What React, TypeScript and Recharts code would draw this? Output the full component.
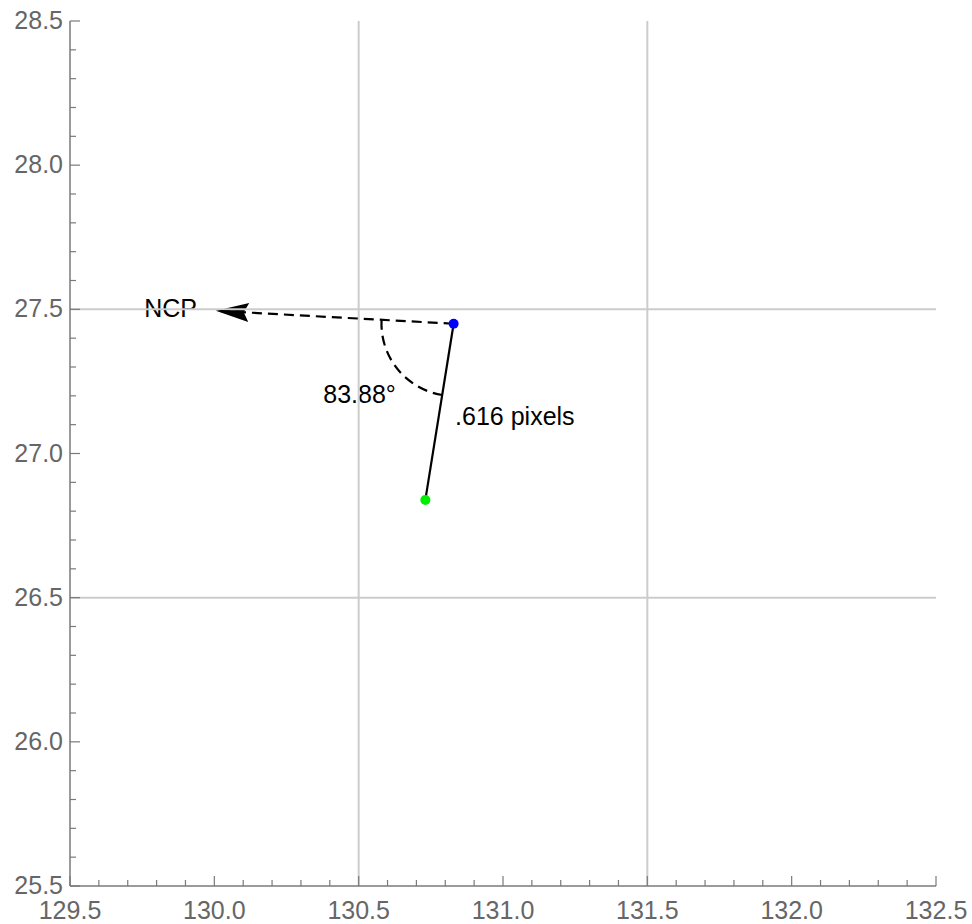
import React from 'react';
import * as R from 'recharts';
import { ComposedChart, XAxis, YAxis, Scatter, ReferenceLine } from 'recharts';

// axis ranges and ticks (every 0.1, labels every 0.5)
const xDomain = [129.5, 132.5];
const yDomain = [25.5, 28.5];
const xTicks = [
    129.5, 129.6, 129.7, 129.8, 129.9, 130.0, 130.1, 130.2, 130.3, 130.4, 130.5, 130.6, 130.7, 130.8, 130.9, 131.0,
    131.1, 131.2, 131.3, 131.4, 131.5, 131.6, 131.7, 131.8, 131.9, 132.0, 132.1, 132.2, 132.3, 132.4, 132.5,
];
const yTicks = [
    25.5, 25.6, 25.7, 25.8, 25.9, 26.0, 26.1, 26.2, 26.3, 26.4, 26.5, 26.6, 26.7, 26.8, 26.9, 27.0, 27.1, 27.2,
    27.3, 27.4, 27.5, 27.6, 27.7, 27.8, 27.9, 28.0, 28.1, 28.2, 28.3, 28.4, 28.5,
];
const gridX = [130.5, 131.5];
const gridY = [26.5, 27.5];

// points
const bluePoint = [{ x: 130.829, y: 27.45 }];
const greenPoint = [{ x: 130.731, y: 26.839 }];
const ncpTip = { x: 130.005, y: 27.495 };
const arcRadius = 0.25;

// text annotations (y = baseline)
const labels = [
    { text: 'NCP', x: 129.94, y: 27.4745, anchor: 'end' },
    { text: '83.88°', x: 130.503, y: 27.174, anchor: 'middle' },
    { text: '.616 pixels', x: 130.834, y: 27.099, anchor: 'start' },
];

const FONT = "'Liberation Sans', Arial, Helvetica, sans-serif";
const frameColor = '#7a7a7a';
const labelColor = '#666666';
const gridColor = '#cccccc';

const isMajor = (v: number) => Math.abs(v * 2 - Math.round(v * 2)) < 1e-6;

const usePlotAreaHook: any = (R as any).usePlotArea;

const BottomTick = (props: any) => {
    const { x, y, payload } = props;
    const v = payload.value as number;
    const major = isMajor(v);
    return (
        <g>
            <line x1={x} x2={x} y1={y} y2={y - (major ? 10 : 6)} stroke={frameColor} strokeWidth={1.2} />
            {major && (
                <text x={x} y={y + 33} textAnchor='middle' fontSize={25} fill={labelColor} fontFamily={FONT}>
                    {v.toFixed(1)}
                </text>
            )}
        </g>
    );
};

const TopTick = (props: any) => {
    const { x, y, payload } = props;
    const major = isMajor(payload.value);
    return <line x1={x} x2={x} y1={y} y2={y + (major ? 10 : 6)} stroke={frameColor} strokeWidth={1.2} />;
};

const LeftTick = (props: any) => {
    const { x, y, payload } = props;
    const v = payload.value as number;
    const major = isMajor(v);
    return (
        <g>
            <line x1={x} x2={x + (major ? 10 : 6)} y1={y} y2={y} stroke={frameColor} strokeWidth={1.2} />
            {major && (
                <text x={x - 7} y={y + 8} textAnchor='end' fontSize={25} fill={labelColor} fontFamily={FONT}>
                    {v.toFixed(1)}
                </text>
            )}
        </g>
    );
};

const RightTick = (props: any) => {
    const { x, y, payload } = props;
    const major = isMajor(payload.value);
    return <line x1={x} x2={x - (major ? 10 : 6)} y1={y} y2={y} stroke={frameColor} strokeWidth={1.2} />;
};

function Annotations() {
    const area = usePlotAreaHook ? usePlotAreaHook() : null;
    const pa = area ?? { x: 70, y: 21, width: 866, height: 865 };
    const sx = (v: number) => pa.x + ((v - xDomain[0]) / (xDomain[1] - xDomain[0])) * pa.width;
    const sy = (v: number) => pa.y + ((yDomain[1] - v) / (yDomain[1] - yDomain[0])) * pa.height;

    const bx = sx(bluePoint[0].x);
    const by = sy(bluePoint[0].y);
    const gx = sx(greenPoint[0].x);
    const gy = sy(greenPoint[0].y);
    const tx = sx(ncpTip.x);
    const ty = sy(ncpTip.y);
    const r = (arcRadius / (xDomain[1] - xDomain[0])) * pa.width;

    // angle arc
    const a1 = Math.atan2(ty - by, tx - bx);
    const a2 = Math.atan2(gy - by, gx - bx);
    const cross = Math.cos(a1) * Math.sin(a2) - Math.sin(a1) * Math.cos(a2);
    const sweep = cross > 0 ? 1 : 0;
    const arcPath = `M ${bx + r * Math.cos(a1)} ${by + r * Math.sin(a1)} A ${r} ${r} 0 0 ${sweep} ${bx + r * Math.cos(a2)} ${by + r * Math.sin(a2)}`;

    // arrowhead
    const len = Math.hypot(tx - bx, ty - by);
    const ux = (tx - bx) / len;
    const uy = (ty - by) / len;
    const nx = -uy;
    const ny = ux;
    const L = 33;
    const W = 9.5;
    const notch = 28;
    const head = [
        [tx, ty],
        [tx - ux * L + nx * W, ty - uy * L + ny * W],
        [tx - ux * notch, ty - uy * notch],
        [tx - ux * L - nx * W, ty - uy * L - ny * W],
    ]
        .map((p) => p.join(','))
        .join(' ');

    return (
        <g>
            <path d={arcPath} fill='none' stroke='#000' strokeWidth={2.2} strokeDasharray='10 6' />
            <polygon points={head} fill='#000' />
            {labels.map((l) => (
                <text
                    key={l.text}
                    x={sx(l.x)}
                    y={sy(l.y)}
                    textAnchor={l.anchor as any}
                    fontSize={25}
                    fill='#000'
                    fontFamily={FONT}
                >
                    {l.text}
                </text>
            ))}
        </g>
    );
}

const dot = (color: string) => (p: any) => <circle cx={p.cx} cy={p.cy} r={5} fill={color} />;

export default function App() {
    return (
        <div style={{ position: 'fixed', left: 0, top: 0, width: 972, height: 924, background: '#fff' }}>
            <ComposedChart width={972} height={924} margin={{ top: 21, right: 36, bottom: 0, left: 0 }}>
                <XAxis
                    xAxisId='b'
                    type='number'
                    dataKey='x'
                    domain={xDomain}
                    ticks={xTicks}
                    interval={0}
                    allowDataOverflow
                    height={38}
                    tickSize={0}
                    tickMargin={0}
                    tickLine={false}
                    axisLine={{ stroke: frameColor, strokeWidth: 1.5 }}
                    tick={<BottomTick />}
                />
                <XAxis
                    xAxisId='t'
                    orientation='top'
                    type='number'
                    domain={xDomain}
                    ticks={xTicks}
                    interval={0}
                    allowDataOverflow
                    height={0}
                    tickSize={0}
                    tickMargin={0}
                    tickLine={false}
                    axisLine={{ stroke: frameColor, strokeWidth: 1.5 }}
                    tick={<TopTick />}
                />
                <YAxis
                    yAxisId='l'
                    type='number'
                    dataKey='y'
                    domain={yDomain}
                    ticks={yTicks}
                    interval={0}
                    allowDataOverflow
                    width={70}
                    tickSize={0}
                    tickMargin={0}
                    tickLine={false}
                    axisLine={{ stroke: frameColor, strokeWidth: 1.5 }}
                    tick={<LeftTick />}
                />
                <YAxis
                    yAxisId='r'
                    orientation='right'
                    type='number'
                    domain={yDomain}
                    ticks={yTicks}
                    interval={0}
                    allowDataOverflow
                    width={0}
                    tickSize={0}
                    tickMargin={0}
                    tickLine={false}
                    axisLine={{ stroke: frameColor, strokeWidth: 1.5 }}
                    tick={<RightTick />}
                />
                {gridX.map((v) => (
                    <ReferenceLine key={`gx${v}`} xAxisId='b' yAxisId='l' x={v} stroke={gridColor} strokeWidth={2} />
                ))}
                {gridY.map((v) => (
                    <ReferenceLine key={`gy${v}`} xAxisId='b' yAxisId='l' y={v} stroke={gridColor} strokeWidth={2} />
                ))}
                <ReferenceLine
                    xAxisId='b'
                    yAxisId='l'
                    segment={[bluePoint[0], ncpTip]}
                    stroke='#000'
                    strokeWidth={2.2}
                    strokeDasharray='10 6'
                />
                <ReferenceLine
                    xAxisId='b'
                    yAxisId='l'
                    segment={[bluePoint[0], greenPoint[0]]}
                    stroke='#000'
                    strokeWidth={2.2}
                />
                <Scatter xAxisId='b' yAxisId='l' data={bluePoint} shape={dot('#0000ff')} isAnimationActive={false} />
                <Scatter xAxisId='b' yAxisId='l' data={greenPoint} shape={dot('#00ee00')} isAnimationActive={false} />
                <Annotations />
            </ComposedChart>
        </div>
    );
}
